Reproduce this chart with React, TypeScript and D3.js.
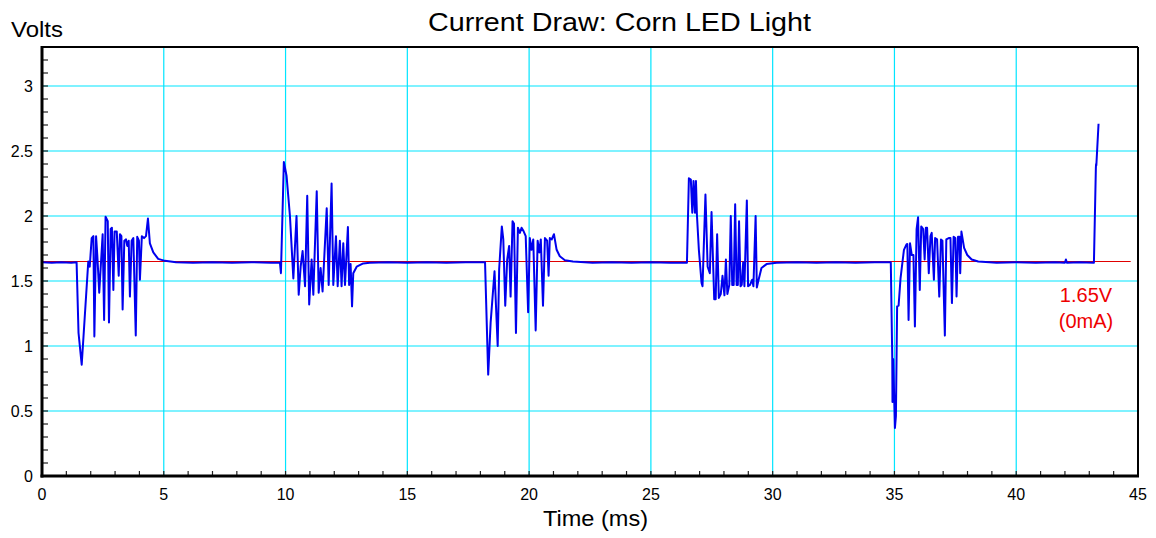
import * as d3 from 'd3';
import React from 'react';

// scope trace, [time ms, volts]
const lead = [[0, 1.645], [0.4, 1.64], [0.8, 1.645], [1.2, 1.64], [1.42, 1.645]];
const burst1 = [
  [1.5, 1.1], [1.63, 0.856], [1.9, 1.65], [1.96, 1.61], [2.04, 1.83], [2.11, 1.845], [2.15, 1.074], [2.22, 1.845],
  [2.27, 1.7], [2.35, 1.41], [2.49, 1.86], [2.55, 1.2], [2.61, 1.995], [2.7, 1.96], [2.75, 1.18], [2.82, 1.9],
  [2.87, 1.91], [2.93, 1.43], [2.98, 1.88], [3.07, 1.88], [3.15, 1.54], [3.2, 1.86], [3.26, 1.845], [3.31, 1.28],
  [3.38, 1.81], [3.45, 1.82], [3.5, 1.77], [3.56, 1.81], [3.61, 1.38], [3.68, 1.81], [3.75, 1.83], [3.85, 1.08],
  [3.91, 1.84], [3.98, 1.81], [4.02, 1.51], [4.1, 1.845], [4.19, 1.83], [4.27, 1.845], [4.35, 1.98], [4.43, 1.79],
  [4.57, 1.72], [4.77, 1.67], [5.05, 1.655], [5.5, 1.645], [6.2, 1.64], [7, 1.645], [7.8, 1.64], [8.6, 1.645], [9.4, 1.64], [9.77, 1.64],
];
const burst2 = [
  [9.81, 1.56], [9.93, 2.415], [10.04, 2.31], [10.18, 2.0], [10.32, 1.52], [10.45, 2.0], [10.54, 1.395], [10.62, 1.61],
  [10.7, 1.73], [10.8, 1.46], [10.89, 2.155], [10.97, 1.32], [11.07, 1.665], [11.14, 1.395], [11.28, 2.19], [11.36, 1.41],
  [11.44, 1.6], [11.52, 1.42], [11.69, 2.06], [11.77, 1.47], [11.89, 2.25], [11.96, 1.47], [12.07, 1.845], [12.14, 1.46],
  [12.23, 1.81], [12.3, 1.46], [12.37, 1.79], [12.44, 1.47], [12.56, 1.915], [12.61, 1.47], [12.67, 1.63], [12.73, 1.305],
  [12.78, 1.56], [12.92, 1.61], [13.19, 1.635], [13.46, 1.64], [14.2, 1.645], [15, 1.64], [15.8, 1.645], [16.6, 1.64], [17.4, 1.645], [18.19, 1.645],
];
const burst3 = [
  [18.32, 0.78], [18.42, 1.18], [18.58, 1.575], [18.71, 1.0], [18.77, 1.59], [18.88, 1.92], [18.94, 1.82], [19.02, 1.31],
  [19.1, 1.665], [19.18, 1.77], [19.24, 1.38], [19.32, 1.96], [19.38, 1.94], [19.46, 1.1], [19.54, 1.91], [19.62, 1.87],
  [19.69, 1.91], [19.78, 1.88], [19.86, 1.845], [19.96, 1.26], [20.03, 1.83], [20.1, 1.74], [20.17, 1.82], [20.27, 1.12],
  [20.35, 1.81], [20.42, 1.72], [20.48, 1.82], [20.57, 1.31], [20.65, 1.83], [20.74, 1.81], [20.8, 1.54], [20.85, 1.83],
  [20.93, 1.82], [21.02, 1.86], [21.13, 1.74], [21.26, 1.69], [21.47, 1.66], [21.8, 1.65], [22.6, 1.64], [23.4, 1.645],
  [24.2, 1.64], [25, 1.645], [25.8, 1.64], [26.48, 1.64],
];
const burst4 = [
  [26.56, 2.29], [26.64, 2.28], [26.7, 2.025], [26.75, 2.27], [26.81, 2.025], [26.85, 2.27], [26.89, 2.01], [26.97, 1.74],
  [27.08, 1.485], [27.12, 1.46], [27.24, 2.165], [27.33, 1.61], [27.42, 1.56], [27.49, 2.03], [27.6, 1.36], [27.66, 1.36],
  [27.72, 1.86], [27.79, 1.37], [27.87, 1.4], [27.94, 1.54], [28.02, 1.39], [28.08, 1.665], [28.14, 1.4], [28.22, 1.47],
  [28.28, 2.0], [28.34, 1.47], [28.4, 1.47], [28.46, 2.09], [28.52, 1.47], [28.57, 1.47], [28.62, 1.96], [28.68, 1.46],
  [28.73, 1.47], [28.79, 1.645], [28.84, 1.46], [28.94, 2.12], [28.99, 1.46], [29.07, 1.47], [29.16, 1.51], [29.21, 1.46],
  [29.3, 2.0], [29.35, 1.45], [29.41, 1.5], [29.54, 1.6], [29.75, 1.63], [30.16, 1.64], [31, 1.645], [31.8, 1.64],
  [32.6, 1.645], [33.4, 1.64], [34.2, 1.645], [34.85, 1.645],
];
const burst5 = [
  [34.91, 0.91], [34.92, 0.57], [34.95, 0.9], [35.02, 0.37], [35.06, 0.46], [35.11, 1.305], [35.17, 1.31], [35.25, 1.52],
  [35.39, 1.74], [35.49, 1.78], [35.53, 1.785], [35.58, 1.2], [35.64, 1.79], [35.71, 1.7], [35.78, 1.7], [35.84, 1.15],
  [35.91, 1.9], [35.97, 1.99], [36.04, 1.43], [36.1, 1.92], [36.18, 1.9], [36.24, 1.665], [36.29, 1.91], [36.34, 1.91],
  [36.41, 1.56], [36.48, 1.845], [36.53, 1.87], [36.62, 1.51], [36.67, 1.83], [36.75, 1.82], [36.84, 1.38], [36.91, 1.82],
  [36.97, 1.81], [37.07, 1.08], [37.13, 1.82], [37.23, 1.83], [37.3, 1.83], [37.36, 1.33], [37.43, 1.84], [37.5, 1.83],
  [37.55, 1.38], [37.61, 1.84], [37.67, 1.84], [37.7, 1.56], [37.75, 1.88], [37.86, 1.755], [37.99, 1.7], [38.17, 1.665],
  [38.44, 1.65], [39.2, 1.64], [40, 1.645], [40.8, 1.64], [41.6, 1.645], [42.0, 1.64], [42.04, 1.665], [42.08, 1.64],
  [42.6, 1.645], [43.19, 1.64],
];
const tail = [[43.27, 2.37], [43.28, 2.4], [43.29, 2.39], [43.38, 2.71]];

const trace = [...lead, ...burst1, ...burst2, ...burst3, ...burst4, ...burst5, ...tail];

const xGrid = [0, 5, 10, 15, 20, 25, 30, 35, 40, 45];
const yGrid = [0, 0.5, 1, 1.5, 2, 2.5, 3];
const refVolts = 1.65;
const refEnd = 44.7;

const m = { left: 42, right: 1138, top: 47, bottom: 476 };

export default function App() {
  const x = d3.scaleLinear().domain([0, 45]).range([m.left, m.right]);
  const y = d3.scaleLinear().domain([0, 3.3]).range([m.bottom, m.top]);
  const line = d3.line<number[]>().x(d => x(d[0])).y(d => y(d[1]));
  const xMinor = d3.range(0, 46, 1);
  const yMinor = d3.range(0, 33).map(i => i / 10);
  const font = 'Liberation Sans, Arial, sans-serif';

  return (
    <svg width={1156} height={538} style={{ position: 'absolute', left: 0, top: 0 }} fontFamily={font}>
      <rect width={1156} height={538} fill="white" />
      {xGrid.slice(1, -1).map(t => (
        <line key={'gx' + t} x1={x(t)} x2={x(t)} y1={m.top} y2={m.bottom} stroke="#00e5ff" strokeWidth={1.2} />
      ))}
      {yGrid.slice(1).map(v => (
        <line key={'gy' + v} x1={m.left} x2={m.right} y1={y(v)} y2={y(v)} stroke="#00e5ff" strokeWidth={1.2} />
      ))}
      {xMinor.map(t => (
        <line key={'tx' + t} x1={x(t)} x2={x(t)} y1={m.bottom} y2={m.bottom - 5} stroke="#222" strokeWidth={1.2} />
      ))}
      {yMinor.map(v => (
        <line key={'ty' + v} x1={m.left} x2={m.left + 6} y1={y(v)} y2={y(v)} stroke="#222" strokeWidth={1.2} />
      ))}
      <line x1={x(0)} x2={x(refEnd)} y1={y(refVolts)} y2={y(refVolts)} stroke="#e00000" strokeWidth={1} />
      <path d={line(trace) || ''} fill="none" stroke="#0000ee" strokeWidth={2} strokeLinejoin="round" />
      <line x1={m.left} x2={m.right} y1={m.top} y2={m.top} stroke="black" strokeWidth={2} />
      <line x1={m.right} x2={m.right} y1={m.top} y2={m.bottom} stroke="black" strokeWidth={2} />
      <line x1={m.left} x2={m.left} y1={m.top - 1} y2={m.bottom + 1.5} stroke="black" strokeWidth={3} />
      <line x1={m.left - 1.5} x2={m.right + 1} y1={m.bottom} y2={m.bottom} stroke="black" strokeWidth={3} />
      {yGrid.map(v => (
        <text key={'ly' + v} x={33} y={y(v) + 6} textAnchor="end" fontSize={16}>{String(v)}</text>
      ))}
      {xGrid.map(t => (
        <text key={'lx' + t} x={x(t)} y={500} textAnchor="middle" fontSize={16}>{String(t)}</text>
      ))}
      <text x={428} y={31} fontSize={25} textLength={383} lengthAdjust="spacingAndGlyphs">Current Draw: Corn LED Light</text>
      <text x={11} y={37} fontSize={22} textLength={52} lengthAdjust="spacingAndGlyphs">Volts</text>
      <text x={543} y={526} fontSize={22} textLength={105} lengthAdjust="spacingAndGlyphs">Time (ms)</text>
      <text x={1086} y={302} textAnchor="middle" fontSize={20} fill="#ee0000">1.65V</text>
      <text x={1086} y={328} textAnchor="middle" fontSize={20} fill="#ee0000">(0mA)</text>
    </svg>
  );
}
